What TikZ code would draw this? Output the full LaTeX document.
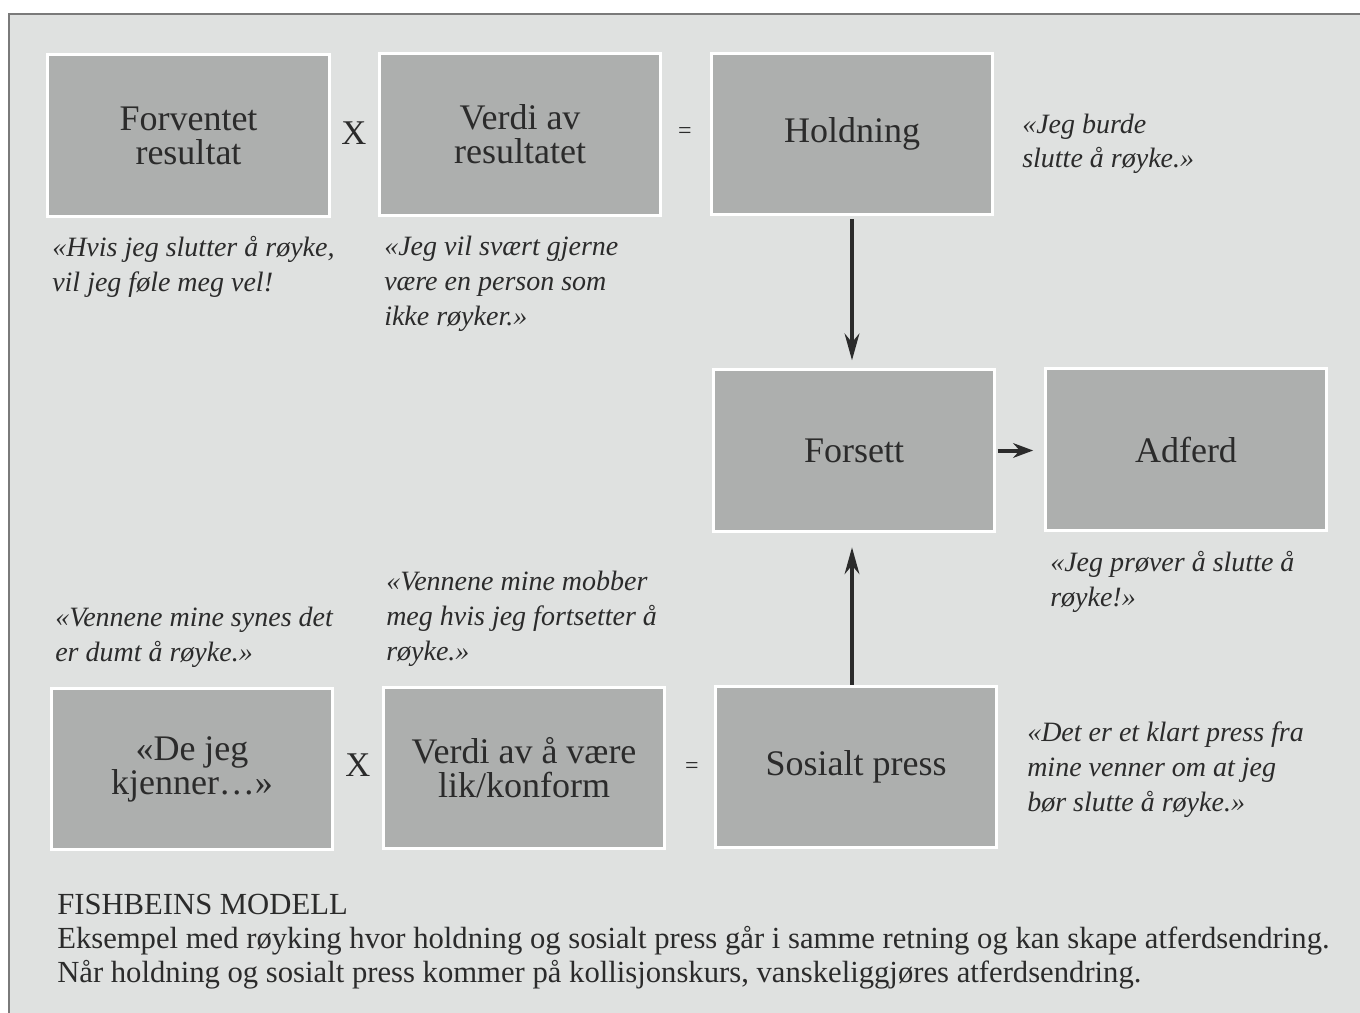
\documentclass[tikz,border=0pt]{standalone}
\usepackage{fontspec}
\setmainfont{Liberation Serif}
\usetikzlibrary{arrows.meta}
\definecolor{panel}{HTML}{DFE1E0}
\definecolor{boxfill}{HTML}{ADAFAE}
\definecolor{ink}{HTML}{2B2B2B}
\definecolor{rim}{HTML}{7A7A7A}
\begin{document}
\begin{tikzpicture}[x=0.75pt,y=-0.75pt,
  box/.style={draw=white, line width=2.25pt, fill=boxfill, minimum width=211pt, minimum height=121pt, inner sep=0pt, align=center, font=\fontsize{27}{25.5}\selectfont, text=ink},
  quote/.style={anchor=base west, align=left, inner sep=0pt, font=\fontsize{21}{26}\selectfont\itshape, text=ink},
  capt/.style={anchor=base west, align=left, inner sep=0pt, font=\fontsize{23}{25.2}\selectfont, text=ink},
  op/.style={inner sep=0pt, text=ink},
  arr/.style={draw=ink, line width=3pt, -{Stealth[length=20pt,width=11pt]}}]
\useasboundingbox (0,0) rectangle (1360,1013);
\fill[white] (0,0) rectangle (1360,1013);
\fill[panel] (9,14) rectangle (1360,1013);
\draw[rim, line width=1.5pt] (9,1013) -- (9,14) -- (1360,14);

\node[box] (fr) at (188.5,135.5) {Forventet\\resultat};
\node[box] (vr) at (520,134.5) {Verdi av\\resultatet};
\node[box] (ho) at (852,134) {Holdning};
\node[box] (fo) at (854,450.5) {Forsett};
\node[box] (ad) at (1186,449.5) {Adferd};
\node[box] (dj) at (192,769) {«De jeg\\kjenner…»};
\node[box] (vk) at (524,768) {Verdi av å være\\lik/konform};
\node[box] (sp) at (856,767) {Sosialt press};

\node[op, font=\fontsize{26}{26}\selectfont] (x1) at (354,133) {X};
\node[op, font=\fontsize{26}{26}\selectfont] (x2) at (358,765) {X};
\node[op, font=\fontsize{18}{18}\selectfont] (e1) at (685,133) {=};
\node[op, font=\fontsize{18}{18}\selectfont] (e2) at (692,768) {=};

\draw[arr, shorten <=2pt, shorten >=6pt] (ho.south) -- (ho.south |- fo.north);
\draw[arr, shorten >=11pt] (sp.north -| ho.south) -- (fo.south -| ho.south);
\draw[draw=ink, line width=3pt, -{Stealth[length=15pt,width=11pt]}, shorten <=1pt, shorten >=8pt] (fo.east) -- (fo.east -| ad.west);

\node[quote] (q1) at (52,291) {«Hvis jeg slutter å røyke,\\vil jeg føle meg vel!};
\node[quote] (q2) at (384,325) {«Jeg vil svært gjerne\\være en person som\\ikke røyker.»};
\node[quote] (q3) at (1022,168) {«Jeg burde\\slutte å røyke.»};
\node[quote] (q4) at (1050,606) {«Jeg prøver å slutte å\\røyke!»};
\node[quote] (q5) at (55,661) {«Vennene mine synes det\\er dumt å røyke.»};
\node[quote] (q6) at (386,660) {«Vennene mine mobber\\meg hvis jeg fortsetter å\\røyke.»};
\node[quote] (q7) at (1027,811) {«Det er et klart press fra\\mine venner om at jeg\\bør slutte å røyke.»};

\node[capt] (cap) at (57,982) {FISHBEINS MODELL\\Eksempel med røyking hvor holdning og sosialt press går i samme retning og kan skape atferdsendring.\\Når holdning og sosialt press kommer på kollisjonskurs, vanskeliggjøres atferdsendring.};
\end{tikzpicture}
\end{document}
